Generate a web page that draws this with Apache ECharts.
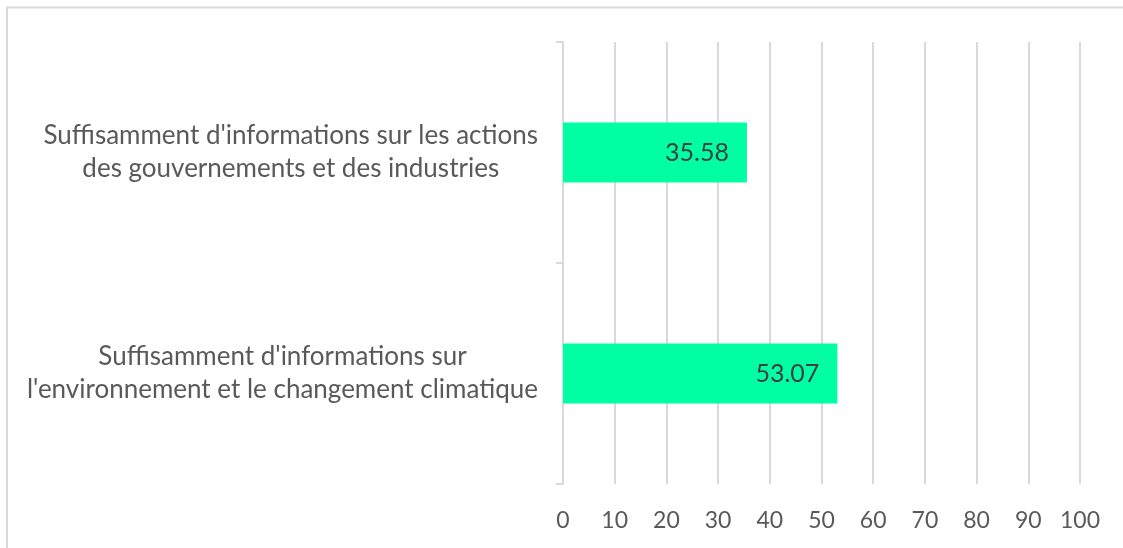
<!DOCTYPE html>
<html>
<head>
<meta charset="utf-8">
<script src="https://cdn.jsdelivr.net/npm/echarts@6/dist/echarts.min.js"></script>
<style>
html,body{margin:0;padding:0;background:#fff;}
#chart{width:1123px;height:548px;}
</style>
</head>
<body>
<div id="chart"></div>
<script>
// Categories listed top to bottom
const categories = [
  "Suffisamment d'informations sur les actions\ndes gouvernements et des industries",
  "Suffisamment d'informations sur\nl'environnement et le changement climatique"
];
const values = [35.58, 53.07];
const xTicks = [0, 10, 20, 30, 40, 50, 60, 70, 80, 90, 100];

const chart = echarts.init(document.getElementById('chart'), null, {renderer: 'canvas'});
const FONT = 'Lato';
chart.setOption({
  animation: false,
  backgroundColor: '#ffffff',
  graphic: [{
    type: 'rect',
    shape: {x: 7, y: 7.5, width: 1140, height: 570},
    style: {fill: 'none', stroke: '#d9d9d9', lineWidth: 2},
    silent: true
  }],
  grid: {left: 563, right: 43, top: 42, bottom: 64},
  xAxis: {
    type: 'value',
    min: xTicks[0],
    max: xTicks[xTicks.length - 1],
    interval: 10,
    axisLine: {show: false},
    axisTick: {show: false},
    splitLine: {show: true, lineStyle: {color: '#d9d9d9', width: 2}},
    axisLabel: {
      color: '#595959', fontFamily: FONT, fontSize: 23, margin: 25,
      formatter: v => xTicks.includes(v) ? String(v) : ''
    }
  },
  yAxis: {
    type: 'category',
    inverse: true,
    data: categories,
    axisLine: {show: true, lineStyle: {color: '#d9d9d9', width: 2}},
    axisTick: {show: true, length: 7, lineStyle: {color: '#d9d9d9', width: 2}},
    splitLine: {show: false},
    axisLabel: {
      color: '#595959', fontFamily: FONT, fontSize: 26, margin: 25,
      align: 'right', lineHeight: 33,
      formatter: v => v.split('\n').map(s => '{c|' + s + '}').join('\n'),
      rich: {c: {align: 'center', color: '#595959', fontFamily: FONT, fontSize: 26, lineHeight: 33}}
    }
  },
  series: [{
    type: 'bar',
    data: values,
    barWidth: 60,
    itemStyle: {color: '#00FFA2'},
    label: {
      show: true, position: 'insideRight', distance: 18,
      color: '#404040', fontFamily: FONT, fontSize: 25,
      formatter: p => p.value.toFixed(2)
    }
  }]
});
</script>
</body>
</html>
